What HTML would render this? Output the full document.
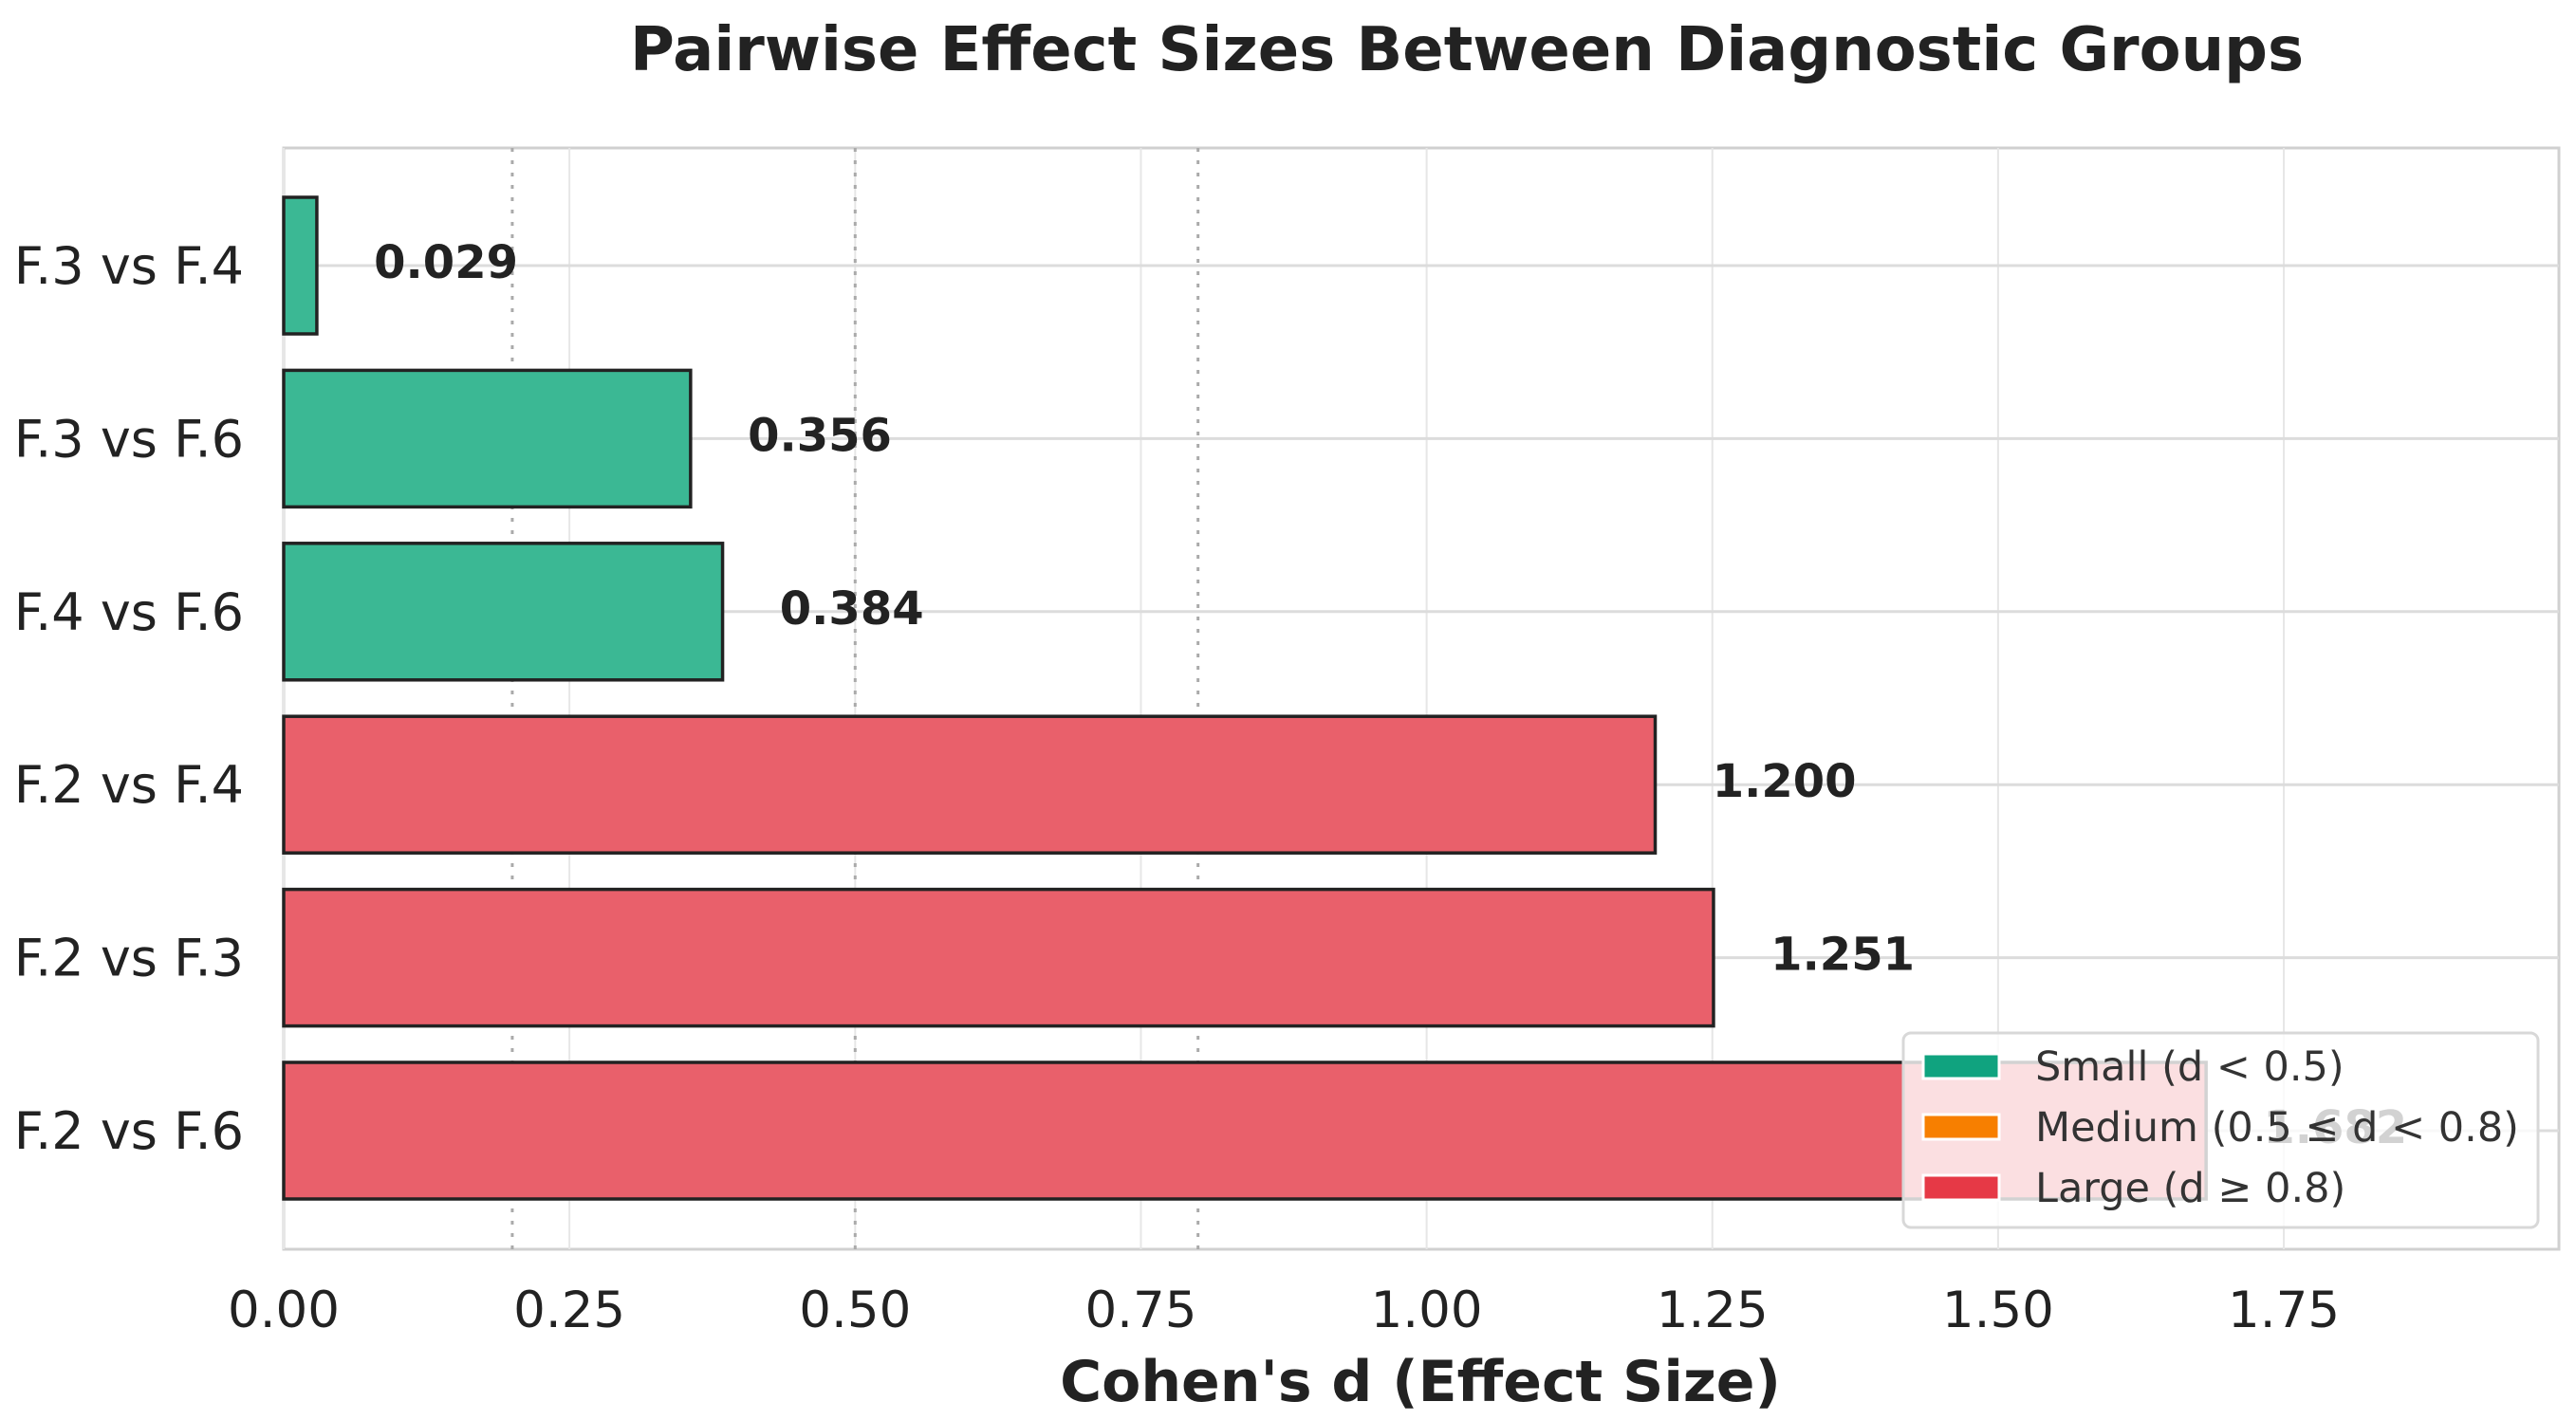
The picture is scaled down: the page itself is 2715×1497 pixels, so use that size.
<!DOCTYPE html>
<html><head><meta charset="utf-8"><style>
html,body{margin:0;padding:0;background:#fff;}
svg{display:block;font-family:"DejaVu Sans","Liberation Sans",sans-serif;}
</style></head><body>
<svg id="chart" width="2715" height="1497" viewBox="0 0 2715 1497" xmlns="http://www.w3.org/2000/svg">
<text x="1546" y="74" text-anchor="middle" font-size="64" font-weight="bold" fill="#222">Pairwise Effect Sizes Between Diagnostic Groups</text>
<g id="plot"></g>
<text x="1497" y="1477" text-anchor="middle" font-size="60" font-weight="bold" fill="#222">Cohen's d (Effect Size)</text>
</svg>
<script>
const categories = ["F.3 vs F.4","F.3 vs F.6","F.4 vs F.6","F.2 vs F.4","F.2 vs F.3","F.2 vs F.6"];
const values = [0.029, 0.356, 0.384, 1.200, 1.251, 1.682];
const xTicks = [0, 0.25, 0.5, 0.75, 1.0, 1.25, 1.5, 1.75];
const xTickLabels = ["0.00","0.25","0.50","0.75","1.00","1.25","1.50","1.75"];
const thresholds = [0.2, 0.5, 0.8];

const NS = "http://www.w3.org/2000/svg";
const L = 299, R = 2697, T = 156, B = 1317;
const xMax = (R - L) / 1204.6;
const x = v => L + v / xMax * (R - L);
const rowH = 182.4, firstRow = 280;
const y = i => firstRow + i * rowH;
const g = document.getElementById('plot');
function mk(tag, attrs, parent) {
  const e = document.createElementNS(NS, tag);
  for (const k in attrs) e.setAttribute(k, attrs[k]);
  (parent || g).appendChild(e);
  return e;
}
const frame = mk('rect', {x: L, y: T, width: R - L, height: B - T, fill: '#fff', stroke: '#d0d0d0', 'stroke-width': 3});


xTicks.forEach((t, i) => {
  const ln = mk('line', {x1: x(t), x2: x(t), y1: T, y2: B, stroke: '#e6e6e6', 'stroke-width': 2});
  
  
  const tx = mk('text', {x: x(t), y: 1399, 'text-anchor': 'middle', 'font-size': 53, fill: '#222'});
  tx.textContent = xTickLabels[i];
  
  
});
categories.forEach((c, i) => {
  const ln = mk('line', {x1: L, x2: R, y1: y(i), y2: y(i), stroke: '#dcdcdc', 'stroke-width': 3});
  
  
});
thresholds.forEach(t => {
  const ln = mk('line', {x1: x(t), x2: x(t), y1: T, y2: B, stroke: '#aaa', 'stroke-width': 3, 'stroke-dasharray': '4 9'});
  
  
});
const barH = 144;
categories.forEach((c, i) => {
  const v = values[i];
  const col = v < 0.5 ? '#3bb894' : (v < 0.8 ? '#f89a3c' : '#e9606b');
  const r = mk('rect', {x: x(0), y: y(i) - barH / 2, width: x(v) - x(0), height: barH, fill: col, stroke: '#222', 'stroke-width': 3.5});
  
  
  const vt = mk('text', {x: x(v + 0.05), y: y(i), 'font-size': 48, 'font-weight': 'bold', fill: '#222', 'dominant-baseline': 'middle'});
  vt.textContent = v.toFixed(3);
  
  
  const lt = mk('text', {x: 257, y: y(i) + 19, 'text-anchor': 'end', 'font-size': 54, fill: '#222'});
  lt.textContent = c;
  
  
});
const lg = mk('g', {});


mk('rect', {x: 2006, y: 1089, width: 669, height: 205, rx: 8, fill: 'rgba(255,255,255,0.8)', stroke: '#d8d8d8', 'stroke-width': 3}, lg);
const legendLabels = ["Small (d < 0.5)", "Medium (0.5 ≤ d < 0.8)", "Large (d ≥ 0.8)"];
const legendColors = ["#10a37f", "#f77f00", "#e63946"];
legendLabels.forEach((s, i) => {
  const yy = 1124 + i * 64;
  const p = mk('rect', {x: 2027, y: yy - 13, width: 80, height: 26, fill: legendColors[i], stroke: '#fff', 'stroke-width': 3}, lg);
  
  
  const t = mk('text', {x: 2145, y: yy + 15, 'font-size': 43, fill: '#333'}, lg);
  t.textContent = s;
  
  
});
</script>
</body></html>
